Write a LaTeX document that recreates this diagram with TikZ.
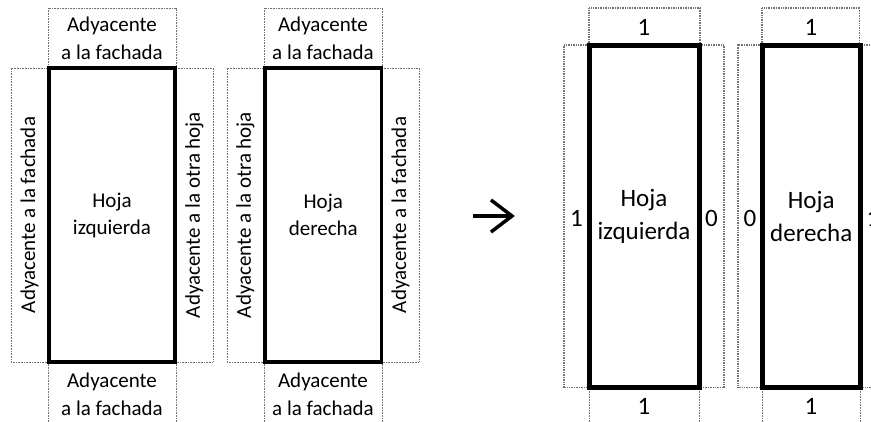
\documentclass[tikz,border=0pt]{standalone}
\usepackage{fontspec}
\setmainfont{Carlito}
\begin{document}
\begin{tikzpicture}[x=1pt,y=-1pt,
  dotbox/.style={draw=black!55, line width=0.9pt, dash pattern=on 0.9pt off 0.7pt},
  dotboxb/.style={draw=black!55, line width=1.4pt, dash pattern=on 1pt off 0.7pt},
  hojaa/.style={draw, line width=3.5pt, inner sep=0pt, align=center, font=\fontsize{21}{27}\selectfont},
  hojab/.style={draw, line width=5pt, inner sep=0pt, align=center, font=\fontsize{25}{33}\selectfont},
  lbl/.style={inner sep=0pt, align=center, font=\fontsize{21}{28}\selectfont},
  lblb/.style={inner sep=0pt, align=center, font=\fontsize{25}{33}\selectfont}]
\useasboundingbox (0,0) rectangle (871,421);

% ---------- left figure 1 ----------
\draw[dotbox] (48,68) -- (48,8) -- (176,8) -- (176,68);
\draw[dotbox] (48,68) -- (11,68) -- (11,362) -- (48,362);
\draw[dotbox] (176,68) -- (213,68) -- (213,362) -- (176,362);
\draw[dotbox] (48,362) -- (48,430);
\draw[dotbox] (176,362) -- (176,430);
\node[hojaa, minimum width=126pt, minimum height=294pt] (hi) at (112,215) {Hoja\\izquierda};
\node[lbl] (t1) at (112,38) {Adyacente\\a la fachada};
\node[lbl] (b1) at (112,394) {Adyacente\\a la fachada};
\node[lbl, rotate=90] (l1) at (29.5,215) {Adyacente a la fachada};
\node[lbl, rotate=90] (r1) at (194.5,215) {Adyacente a la otra hoja};

% ---------- left figure 2 ----------
\draw[dotbox] (264,68) -- (264,8) -- (382,8) -- (382,68);
\draw[dotbox] (264,68) -- (227,68) -- (227,362) -- (264,362);
\draw[dotbox] (382,68) -- (419,68) -- (419,362) -- (382,362);
\draw[dotbox] (264,362) -- (264,430);
\draw[dotbox] (382,362) -- (382,430);
\node[hojaa, minimum width=116.5pt, minimum height=294pt] (hd) at (323.25,215) {Hoja\\derecha};
\node[lbl] (t2) at (323,38) {Adyacente\\a la fachada};
\node[lbl] (b2) at (323,394) {Adyacente\\a la fachada};
\node[lbl, rotate=90] (l2) at (245.5,215) {Adyacente a la otra hoja};
\node[lbl, rotate=90] (r2) at (400.5,215) {Adyacente a la fachada};

% ---------- arrow ----------
\coordinate (as) at (473,216);
\coordinate (ae) at (512,216);
\draw[line width=3.5pt] (as) -- (ae);
\draw[line width=3.5pt, miter limit=10] ([shift={(-21,-16)}]ae) -- (ae) -- ([shift={(-21,16)}]ae);

% ---------- right figure 1 ----------
\draw[dotboxb] (589,45) -- (589,8) -- (700,8) -- (700,45);
\draw[dotboxb] (589,45) -- (564,45) -- (564,387.5) -- (589,387.5);
\draw[dotboxb] (699,45) -- (724,45) -- (724,387.5) -- (699,387.5);
\draw[dotbox] (589,387.5) -- (589,430);
\draw[dotbox] (699,387.5) -- (699,430);
\node[hojab, minimum width=110pt, minimum height=342.5pt] (ri) at (644,216.25) {Hoja\\izquierda};
\node[lblb] (rt1) at (644,27) {1};
\node[lblb] (rb1) at (644,406) {1};
\node[lblb] (rl1) at (576.5,218) {1};
\node[lblb] (rr1) at (711.5,218) {0};

% ---------- right figure 2 ----------
\draw[dotboxb] (762,45) -- (762,8) -- (859.5,8) -- (859.5,45);
\draw[dotboxb] (762,45) -- (738,45) -- (738,387.5) -- (762,387.5);
\draw[dotboxb] (860.5,45) -- (885,45) -- (885,387.5) -- (860.5,387.5);
\draw[dotbox] (762,387.5) -- (762,430);
\draw[dotbox] (860,387.5) -- (860,430);
\node[hojab, minimum width=98.5pt, minimum height=342.5pt] (rd) at (811.25,216.25) {Hoja\\derecha};
\node[lblb] (rt2) at (811,27) {1};
\node[lblb] (rb2) at (811,406) {1};
\node[lblb] (rl2) at (750,218) {0};
\node[lblb] (rr2) at (873,218) {1};
\end{tikzpicture}
\end{document}
